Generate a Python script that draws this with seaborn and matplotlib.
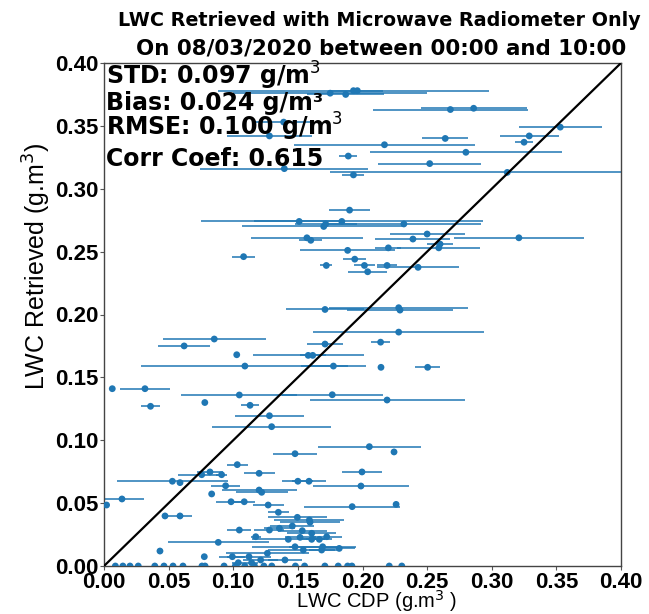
import numpy as np
import pandas as pd
import matplotlib
matplotlib.use("Agg")
import matplotlib.pyplot as plt
import seaborn as sns

# ---- data ----
lwc_cdp = [0.175, 0.187, 0.193, 0.196, 0.268, 0.286, 0.353, 0.329, 0.325, 0.264,
           0.217, 0.280, 0.189, 0.252, 0.193, 0.312, 0.1395, 0.139, 0.128,
           0.190, 0.151, 0.184, 0.232, 0.170, 0.1715, 0.157, 0.160, 0.1885, 0.239,
           0.250, 0.321, 0.259, 0.260, 0.220, 0.172, 0.194, 0.2015, 0.219, 0.243,
           0.204, 0.108, 0.171, 0.228, 0.229, 0.228, 0.171, 0.214, 0.0853, 0.062,
           0.1027, 0.158, 0.1615, 0.109, 0.1775, 0.2143, 0.2504, 0.0064, 0.0317,
           0.1047, 0.1766, 0.219, 0.036, 0.078, 0.113, 0.128, 0.1297, 0.2053,
           0.2244, 0.1478, 0.1031, 0.1996, 0.1988, 0.192, 0.226, 0.082, 0.0756,
           0.091, 0.120, 0.0529, 0.0588, 0.150, 0.1586, 0.0941, 0.0833, 0.120,
           0.122, 0.0983, 0.1085, 0.127, 0.0139, 0.002, 0.0472, 0.0588, 0.1349,
           0.1496, 0.1589, 0.1594, 0.1047, 0.128, 0.1357, 0.1457, 0.1534, 0.1607,
           0.1426, 0.1517, 0.1607, 0.1666, 0.1723, 0.1174, 0.0884, 0.1478, 0.1542,
           0.1692, 0.1684, 0.182, 0.0433, 0.0776, 0.1264, 0.0993, 0.1122, 0.1212,
           0.140, 0.1142, 0.1039,
           0.0088, 0.0146, 0.0201, 0.0265, 0.0393, 0.0464, 0.0534, 0.0611, 0.0758,
           0.0782, 0.0929, 0.1016, 0.1089, 0.1164, 0.1237, 0.1298, 0.1481, 0.1552,
           0.1709, 0.1812, 0.1885, 0.1918, 0.2207, 0.2304]
lwc_mwr = [0.376, 0.375, 0.378, 0.378, 0.363, 0.364, 0.349, 0.342, 0.337, 0.340,
           0.335, 0.329, 0.326, 0.320, 0.311, 0.313, 0.316, 0.353, 0.342,
           0.283, 0.274, 0.274, 0.272, 0.270, 0.272, 0.261, 0.259, 0.251, 0.260,
           0.264, 0.261, 0.253, 0.256, 0.253, 0.239, 0.244, 0.239, 0.239, 0.2375,
           0.234, 0.246, 0.204, 0.2054, 0.2035, 0.186, 0.1765, 0.178, 0.1805, 0.175,
           0.168, 0.1675, 0.1675, 0.159, 0.159, 0.158, 0.158, 0.141, 0.141,
           0.136, 0.1362, 0.132, 0.127, 0.130, 0.1278, 0.1195, 0.1108, 0.0949,
           0.0907, 0.0893, 0.0806, 0.0748, 0.0636, 0.0472, 0.049, 0.0748, 0.0726,
           0.0726, 0.0737, 0.0674, 0.0663, 0.0674, 0.0674, 0.0638, 0.0573, 0.0604,
           0.0586, 0.0511, 0.0511, 0.0485, 0.0533, 0.0485, 0.0398, 0.0398, 0.0427,
           0.0387, 0.0366, 0.0348, 0.0286, 0.0286, 0.030, 0.0318, 0.0281, 0.026,
           0.0212, 0.0228, 0.0212, 0.0212, 0.0233, 0.0233, 0.0188, 0.0153, 0.0127,
           0.0153, 0.0127, 0.014, 0.0119, 0.0074, 0.0101, 0.0074, 0.0074, 0.0048,
           0.0048, 0.0026, 0.0026,
           0.0, 0.0, 0.0, 0.0, 0.0, 0.0, 0.0, 0.0, 0.0,
           0.0, 0.0, 0.0, 0.0, 0.0, 0.0, 0.0, 0.0, 0.0,
           0.0, 0.0, 0.0, 0.0, 0.0, 0.0]
cdp_err = [0.075, 0.030, 0.105, 0.020, 0.060, 0.041, 0.032, 0.023, 0.007, 0.018,
           0.070, 0.074, 0.007, 0.040, 0.0085, 0.137, 0.065, 0.022, 0.033,
           0.016, 0.035, 0.109, 0.060, 0.063, 0.024, 0.043, 0.009, 0.037, 0.029,
           0.029, 0.050, 0.032, 0.010, 0.010, 0.0045, 0.009, 0.008, 0.008, 0.032,
           0.015, 0.0088, 0.030, 0.054, 0.041, 0.066, 0.014, 0.0076, 0.040, 0.020,
           0.0, 0.043, 0.010, 0.080, 0.025, 0.0, 0.0097, 0.0, 0.019,
           0.045, 0.039, 0.060, 0.0076, 0.0, 0.007, 0.027, 0.046, 0.040,
           0.0, 0.017, 0.0083, 0.0157, 0.037, 0.037, 0.0, 0.010, 0.018,
           0.004, 0.012, 0.043, 0.0, 0.012, 0.013, 0.011, 0.0, 0.029,
           0.020, 0.012, 0.008, 0.012, 0.017, 0.0, 0.0, 0.009, 0.008,
           0.023, 0.027, 0.023, 0.0094, 0.0116, 0.012, 0.017, 0.019, 0.019,
           0.028, 0.012, 0.010, 0.010, 0.012, 0.004, 0.039, 0.033, 0.027,
           0.026, 0.010, 0.012, 0.0, 0.0, 0.032, 0.010, 0.017, 0.0135,
           0.013, 0.005, 0.005,
           0.0, 0.0, 0.0, 0.0, 0.0, 0.0, 0.0, 0.0, 0.0,
           0.0, 0.0, 0.0, 0.0, 0.0, 0.0, 0.0, 0.0, 0.0,
           0.0, 0.0, 0.0, 0.0, 0.0, 0.0]

tick_values = [0.00, 0.05, 0.10, 0.15, 0.20, 0.25, 0.30, 0.35, 0.40]
tick_labels = ["0.00", "0.05", "0.10", "0.15", "0.20", "0.25", "0.30", "0.35", "0.40"]
stats_lines = ["STD: 0.097 g/m$^3$", "Bias: 0.024 g/m³", "RMSE: 0.100 g/m$^3$", "Corr Coef: 0.615"]
title_line1 = "LWC Retrieved with Microwave Radiometer Only"
title_line2 = "On 08/03/2020 between 00:00 and 10:00"

df = pd.DataFrame({"cdp": lwc_cdp, "mwr": lwc_mwr, "err": cdp_err})

sns.set_theme(style="white")
plt.rcParams["font.family"] = ["DejaVu Sans"]
for key in ["text.color", "axes.labelcolor", "xtick.color", "ytick.color"]:
    plt.rcParams[key] = "black"

blue = "#1f77b4"
fig = plt.figure(figsize=(6.49, 6.14), dpi=100)
ax = fig.add_axes([104 / 649, 1 - 566 / 614, 517 / 649, 503 / 614])

ax.errorbar(df["cdp"], df["mwr"], xerr=df["err"], fmt="none", ecolor=blue,
            elinewidth=1.1, capsize=0, zorder=2)
sns.scatterplot(data=df, x="cdp", y="mwr", ax=ax, color=blue, s=24,
                edgecolor="none", linewidth=0, zorder=3)
ax.axline((0, 0), slope=1, color="black", lw=1.6, zorder=4)

ax.set_xlim(0, 0.4)
ax.set_ylim(0, 0.4)
sans = ["Liberation Sans", "DejaVu Sans"]
ax.set_xticks(tick_values)
ax.set_yticks(tick_values)
ax.set_xticklabels(tick_labels, family=sans, fontsize=16, fontweight="bold")
ax.set_yticklabels(tick_labels, family=sans, fontsize=16, fontweight="bold")
ax.tick_params(axis="x", pad=1.5)
ax.tick_params(axis="y", pad=1)
ax.tick_params(axis="both", which="both", direction="out", length=3, width=0.8,
               color="#555555", bottom=True, left=True, labelcolor="black")
ax.set_xlabel("LWC CDP (g.m$^3$ )", family=sans, fontsize=14.5)
ax.set_ylabel("LWC Retrieved (g.m$^3$)", family=sans, fontsize=18)
ax.xaxis.set_label_coords(0.528, -0.044)
ax.yaxis.set_label_coords(-0.098, 0.596)
for sp in ax.spines.values():
    sp.set_color("#444444")
    sp.set_linewidth(1.0)

ys = [0.9577, 0.9066, 0.8555, 0.7952]
for txt, yy in zip(stats_lines, ys):
    ax.text(0.004, yy, txt, transform=ax.transAxes, ha="left", va="baseline",
            fontsize=17, fontweight="bold", color="black", zorder=5)

fig.text(379 / 649, 1 - 26 / 614, title_line1, ha="center", va="baseline",
         fontsize=13.8, fontweight="bold", color="black")
fig.text(381 / 649, 1 - 54 / 614, title_line2, ha="center", va="baseline",
         fontsize=15.4, fontweight="bold", color="black")

fig.savefig("out.png", dpi=100)
